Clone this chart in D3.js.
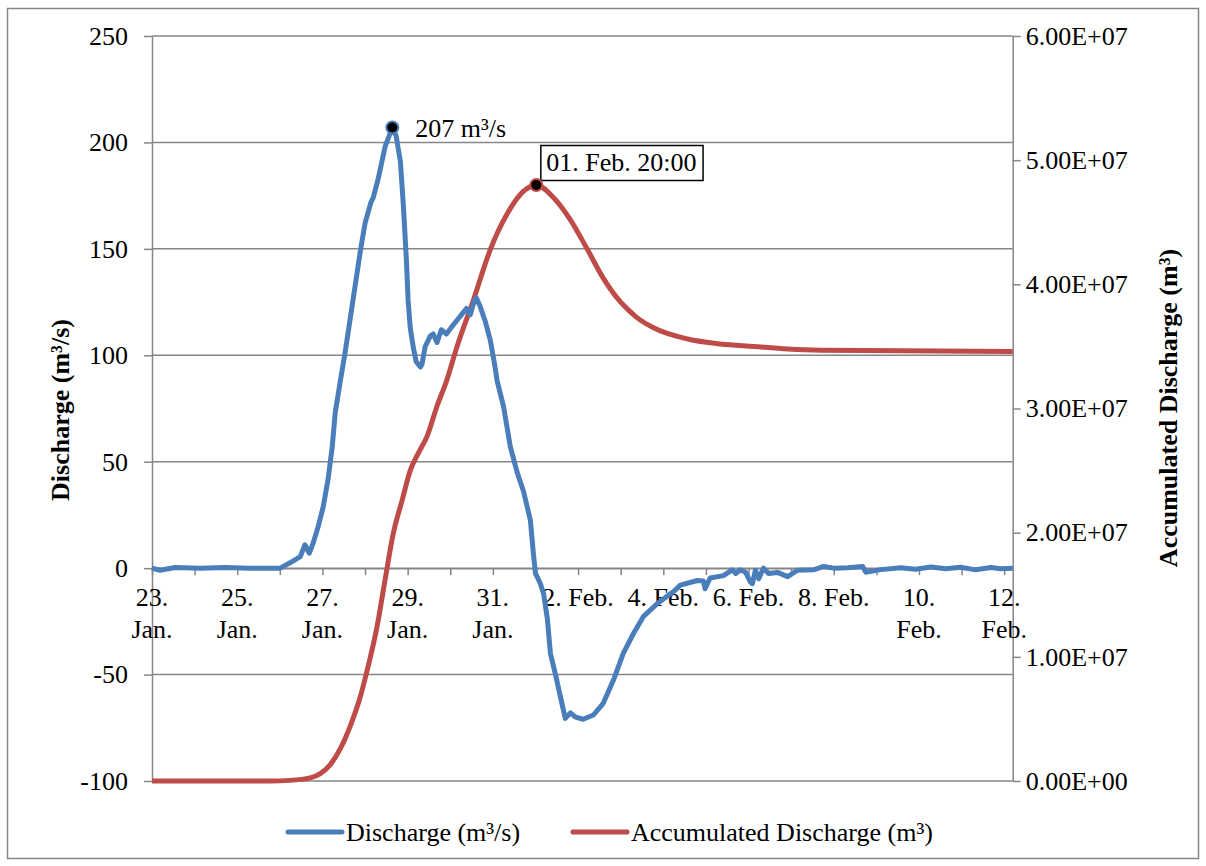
<!DOCTYPE html>
<html>
<head>
<meta charset="utf-8">
<script src="https://cdn.jsdelivr.net/npm/d3@7"></script>
<style>
body { margin: 0; background: #fff; }
text { font-family: "Liberation Serif", "Times New Roman", serif; }
</style>
</head>
<body>
<div id="chart"></div>
<script>
// days since 23 Jan 00:00
var dischargeT = [0, 0.19, 0.54, 1.13, 1.71, 2.30, 2.77, 3.01, 3.24, 3.48, 3.59, 3.69, 3.78, 3.90, 4.02, 4.13, 4.23, 4.30, 4.42, 4.53,
	4.65, 4.77, 4.89, 5.00, 5.14, 5.19, 5.31, 5.47, 5.64, 5.73, 5.83, 5.90, 5.97, 6.01, 6.06, 6.13, 6.20, 6.30, 6.34, 6.41,
	6.53, 6.60, 6.69, 6.79, 6.91, 7.02, 7.14, 7.26, 7.38, 7.47, 7.54, 7.61, 7.70, 7.82, 7.94, 8.03, 8.10, 8.25, 8.41, 8.57,
	8.72, 8.88, 8.95, 9.00, 9.11, 9.19, 9.28, 9.35, 9.47, 9.58, 9.70, 9.82, 9.94, 10.12, 10.36, 10.59, 10.83, 11.06, 11.30, 11.53,
	11.86, 12.24, 12.40, 12.80, 12.94, 12.98, 13.10, 13.41, 13.62, 13.70, 13.81, 13.93, 14.04, 14.09, 14.16, 14.24, 14.35, 14.47, 14.68, 14.92,
	15.15, 15.53, 15.76, 16.00, 16.33, 16.68, 16.75, 17.10, 17.57, 17.92, 18.28, 18.63, 18.98, 19.33, 19.69, 19.92, 20.20];
var dischargeQ = [0, -1, 0.3, 0, 0.3, 0, 0, 0, 2.5, 5.4, 11, 7, 11.6, 19.5, 29, 41.5, 57, 73, 88, 101,
	117, 133, 149, 162, 172, 174, 183, 198, 207, 203, 191, 170, 145, 126, 113, 104, 97, 94.5, 96, 104,
	109, 110, 106, 112, 110, 113, 116, 119, 122, 119, 124, 127, 123, 116, 107, 97, 88, 76, 57, 45,
	36, 22.5, 7, -2.5, -7, -12, -24, -40, -50, -60, -70.6, -68, -70, -71, -69, -63.5, -52.6, -40, -30.7, -22.8,
	-16.6, -11, -8, -5.8, -6, -9.7, -4.6, -3.5, -0.8, -2.5, -0.8, -1.9, -6.4, -7.3, -1, -5, 0, -2.5, -2, -4,
	-1, -0.8, 0.8, 0, 0.2, 0.8, -1.9, -0.7, 0.2, -0.5, 0.5, -0.3, 0.4, -0.8, 0.3, -0.3, 0];

var accumT = [0, 2.77, 3.24, 3.71, 3.95, 4.18, 4.42, 4.65, 4.89, 5.07, 5.28, 5.47, 5.66, 5.87, 6.06, 6.25, 6.46, 6.69, 6.91,
	7.16, 7.54, 7.94, 8.34, 8.72, 9.02, 9.42, 9.82, 10.22, 10.59, 10.99, 11.19, 11.39, 11.77, 12.57, 13.34, 14.12, 14.92, 15.69, 17.57, 20.20];
var accumV = [0, 0, 0.005e7, 0.025e7, 0.06e7, 0.13e7, 0.26e7, 0.44e7, 0.68e7, 0.92e7, 1.24e7, 1.62e7, 1.99e7, 2.26e7, 2.50e7, 2.64e7, 2.78e7, 3.02e7, 3.22e7,
	3.50e7, 3.87e7, 4.28e7, 4.57e7, 4.75e7, 4.80e7, 4.70e7, 4.52e7, 4.28e7, 4.05e7, 3.86e7, 3.79e7, 3.73e7, 3.65e7, 3.56e7, 3.52e7, 3.50e7, 3.48e7, 3.47e7, 3.465e7, 3.46e7];

var leftTicks = [-100, -50, 0, 50, 100, 150, 200, 250];
var rightTicks = [0, 1e7, 2e7, 3e7, 4e7, 5e7, 6e7];
var dayTicks = d3.range(0, 21);
var labelDays = [0, 2, 4, 6, 8, 10, 12, 14, 16, 18, 20];
var labelText = [["23.", "Jan."], ["25.", "Jan."], ["27.", "Jan."], ["29.", "Jan."], ["31.", "Jan."],
	["2. Feb."], ["4. Feb."], ["6. Feb."], ["8. Feb."], ["10.", "Feb."], ["12.", "Feb."]];
var seriesNames = ["Discharge (m³/s)", "Accumulated Discharge (m³)"];
var peakLabel = "207 m³/s";
var accumLabel = "01. Feb. 20:00";

var width = 1206, height = 866;
var blue = "#4a7ebb", red = "#be4b48", grey = "#868686";
var fs = 26;

var svg = d3.select("#chart").append("svg")
	.attr("width", width)
	.attr("height", height);

svg.append("rect")
	.attr("x", 7.5).attr("y", 8.5)
	.attr("width", 1191).attr("height", 850)
	.attr("fill", "#fff")
	.attr("stroke", grey)
	.attr("stroke-width", 1.5);

var x = d3.scaleLinear().domain([0, 20.2]).range([152, 1012.7]);
var yL = d3.scaleLinear().domain([-100, 250]).range([781, 36]);
var yR = d3.scaleLinear().domain([0, 6e7]).range([781, 36]);

// gridlines
svg.append("g").selectAll("line")
	.data(leftTicks)
	.enter().append("line")
	.attr("x1", x.range()[0]).attr("x2", x.range()[1])
	.attr("y1", function(d){ return yL(d); })
	.attr("y2", function(d){ return yL(d); })
	.attr("stroke", grey)
	.attr("stroke-width", 1.5);

function sci(v){
	if(v === 0) return "0.00E+00";
	var e = Math.floor(Math.log10(v));
	var m = v / Math.pow(10, e);
	return m.toFixed(2) + "E+" + (e < 10 ? "0" + e : e);
}

function styleAxis(g){
	g.selectAll(".domain").attr("stroke", grey).attr("stroke-width", 1.5);
	g.selectAll(".tick line").attr("stroke", grey).attr("stroke-width", 1.5);
	g.selectAll("text").attr("font-size", fs).attr("fill", "#000")
		.style("font-family", '"Liberation Serif", "Times New Roman", serif');
}

var gLeft = svg.append("g")
	.attr("transform", "translate(" + x.range()[0] + ",0)")
	.call(d3.axisLeft(yL).tickValues(leftTicks).tickSize(8).tickSizeOuter(0).tickPadding(16)
		.tickFormat(function(d){ return String(d); }));
styleAxis(gLeft);

var gRight = svg.append("g")
	.attr("transform", "translate(" + x.range()[1] + ",0)")
	.call(d3.axisRight(yR).tickValues(rightTicks).tickSize(8).tickSizeOuter(0).tickPadding(5).tickFormat(sci));
styleAxis(gRight);

var gX = svg.append("g")
	.attr("transform", "translate(0," + yL(0) + ")")
	.call(d3.axisBottom(x).tickValues(dayTicks).tickSize(7).tickSizeOuter(0).tickFormat(""));
styleAxis(gX);

var xl = svg.append("g").selectAll("text")
	.data(labelDays)
	.enter().append("text")
	.attr("x", function(d){ return x(d); })
	.attr("y", yL(0) + 38)
	.attr("text-anchor", "middle")
	.attr("font-size", fs);
xl.each(function(d, i){
	var t = d3.select(this);
	labelText[i].forEach(function(s, j){
		t.append("tspan").attr("x", x(d)).attr("dy", j === 0 ? 0 : 32).text(s);
	});
});

// series
var blueLine = d3.line()
	.x(function(d, i){ return x(dischargeT[i]); })
	.y(function(d){ return yL(d); });
var redLine = d3.line()
	.curve(d3.curveMonotoneX)
	.x(function(d, i){ return x(accumT[i]); })
	.y(function(d){ return yR(d); });

svg.append("path")
	.attr("d", redLine(accumV))
	.attr("fill", "none")
	.attr("stroke", red)
	.attr("stroke-width", 5)
	.attr("stroke-linejoin", "round");

svg.append("path")
	.attr("d", blueLine(dischargeQ))
	.attr("fill", "none")
	.attr("stroke", blue)
	.attr("stroke-width", 5)
	.attr("stroke-linejoin", "round");

// peak markers
var qi = d3.maxIndex(dischargeQ);
var bx = x(dischargeT[qi]), by = yL(dischargeQ[qi]);
svg.append("circle").attr("cx", bx).attr("cy", by).attr("r", 6)
	.attr("fill", "#000").attr("stroke", blue).attr("stroke-width", 2);
svg.append("text")
	.attr("x", bx + 23).attr("y", by + 9)
	.attr("font-size", fs)
	.text(peakLabel);

var ai = d3.maxIndex(accumV);
var rx = x(accumT[ai]), ry = yR(accumV[ai]);
var box = svg.append("rect");
var boxText = svg.append("text")
	.attr("x", rx + 10).attr("y", ry - 14)
	.attr("font-size", fs)
	.text(accumLabel);
var tw = boxText.node().getComputedTextLength();
box.attr("x", rx + 4.5).attr("y", ry - 39.5)
	.attr("width", tw + 12).attr("height", 35)
	.attr("fill", "#fff")
	.attr("stroke", "#000")
	.attr("stroke-width", 1.5);
svg.append("circle").attr("cx", rx).attr("cy", ry).attr("r", 6)
	.attr("fill", "#000").attr("stroke", red).attr("stroke-width", 2);

// axis titles
svg.append("text")
	.attr("transform", "translate(60,410) rotate(-90)")
	.attr("text-anchor", "middle")
	.attr("dominant-baseline", "central")
	.attr("font-size", fs)
	.attr("font-weight", "bold")
	.text("Discharge (m³/s)");
svg.append("text")
	.attr("transform", "translate(1168,408) rotate(-90)")
	.attr("text-anchor", "middle")
	.attr("dominant-baseline", "central")
	.attr("font-size", fs)
	.attr("font-weight", "bold")
	.text("Accumulated Discharge (m³)");

// legend
var legend = svg.append("g").selectAll("g")
	.data(seriesNames)
	.enter().append("g")
	.attr("transform", function(d, i){ return "translate(" + [288, 573][i] + ",832)"; });
legend.append("line")
	.attr("x1", 0).attr("x2", 54)
	.attr("stroke", function(d, i){ return i === 0 ? blue : red; })
	.attr("stroke-width", 5)
	.attr("stroke-linecap", "round");
legend.append("text")
	.attr("x", 58).attr("y", 9)
	.attr("font-size", fs)
	.text(function(d){ return d; });
</script>
</body>
</html>
